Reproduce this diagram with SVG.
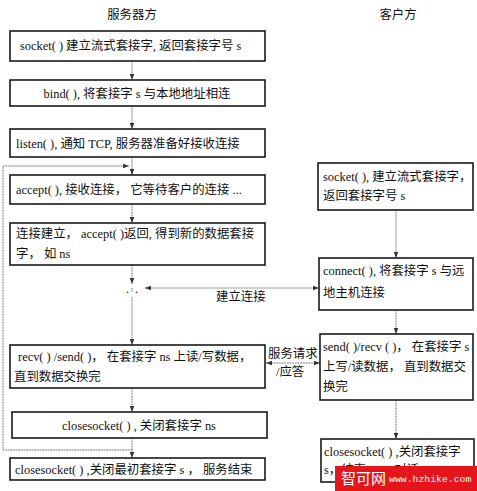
<svg xmlns="http://www.w3.org/2000/svg" width="477" height="491" viewBox="0 0 477 491">
<style>
  .box{fill:#fff;stroke:#1a1a1a;stroke-width:1.6}
  .t{font-family:"Liberation Serif","Noto Sans CJK SC",serif;font-size:12.4px;fill:#111}
  .c{text-anchor:middle}
  .ln{fill:none;stroke:#666;stroke-width:1;stroke-dasharray:1 0.6}
  .wm{font-family:"Noto Sans CJK SC",sans-serif;font-size:15px;fill:#fff}
  .wm2{font-family:"Liberation Mono",monospace;font-size:9.8px;fill:#fff}
</style>
<defs>
  <marker id="ah" viewBox="0 0 8 8" refX="8" refY="4" markerWidth="6" markerHeight="6" orient="auto-start-reverse" markerUnits="userSpaceOnUse">
    <path d="M0,1 L8,4 L0,7 Z" fill="#333"/>
  </marker>
</defs>
<rect width="477" height="491" fill="#fff"/>
<text class="t c" x="132" y="19">服务器方</text>
<text class="t c" x="398" y="19">客户方</text>

<g id="connectors">
  <line class="ln" x1="132" y1="61" x2="132" y2="80" marker-end="url(#ah)"/>
  <line class="ln" x1="132" y1="106" x2="132" y2="129" marker-end="url(#ah)"/>
  <line class="ln" x1="132" y1="157" x2="132" y2="175" marker-end="url(#ah)"/>
  <line class="ln" x1="132" y1="204" x2="132" y2="223" marker-end="url(#ah)"/>
  <line class="ln" x1="132" y1="265" x2="132" y2="284" marker-end="url(#ah)"/>
  <text class="t" x="126" y="293" font-size="9">.</text>
  <text class="t" x="135" y="293" font-size="9">.</text>
  <line class="ln" x1="132" y1="288" x2="132" y2="292"/>
  <line class="ln" x1="132" y1="297" x2="132" y2="345" marker-end="url(#ah)"/>
  <line class="ln" x1="132" y1="388" x2="132" y2="412" marker-end="url(#ah)"/>
  <line class="ln" x1="132" y1="438" x2="132" y2="458" marker-end="url(#ah)"/>
  <polyline class="ln" points="132,450 3,450 3,166 129,166" marker-end="url(#ah)"/>
  <line class="ln" x1="145" y1="288" x2="319" y2="288" marker-start="url(#ah)" marker-end="url(#ah)"/>
  <text class="t" x="216" y="301">建立连接</text>
  <line class="ln" x1="396" y1="210" x2="396" y2="258" marker-end="url(#ah)"/>
  <line class="ln" x1="396" y1="310" x2="396" y2="334" marker-end="url(#ah)"/>
  <line class="ln" x1="396" y1="400" x2="396" y2="439" marker-end="url(#ah)"/>
  <line class="ln" x1="266" y1="363" x2="320" y2="363" marker-start="url(#ah)" marker-end="url(#ah)"/>
  <text class="t" x="268" y="358">服务请求</text>
  <text class="t" x="276" y="376">/应答</text>
</g>

<g id="s_socket"><rect class="box" x="10" y="31" width="255" height="30"/>
  <text class="t" x="20" y="50">socket( ) 建立流式套接字, 返回套接字号 s</text></g>
<g id="s_bind"><rect class="box" x="10" y="80" width="255" height="26"/>
  <text class="t c" x="137" y="98">bind( ), 将套接字 s 与本地地址相连</text></g>
<g id="s_listen"><rect class="box" x="10" y="129" width="255" height="28"/>
  <text class="t" x="16" y="148">listen( ), 通知 TCP, 服务器准备好接收连接</text></g>
<g id="s_accept"><rect class="box" x="10" y="175" width="255" height="29"/>
  <text class="t" x="16" y="194">accept( ), 接收连接， 它等待客户的连接 ...</text></g>
<g id="s_established"><rect class="box" x="10" y="223" width="255" height="42"/>
  <text class="t" x="16" y="238">连接建立， accept( )返回, 得到新的数据套接</text>
  <text class="t" x="16" y="258">字， 如 ns</text></g>
<g id="s_recv"><rect class="box" x="10" y="345" width="255" height="43"/>
  <text class="t" x="18" y="361">recv( ) /send( )， 在套接字 ns 上读/写数据，</text>
  <text class="t" x="14" y="381">直到数据交换完</text></g>
<g id="s_close_ns"><rect class="box" x="12" y="412" width="255" height="26"/>
  <text class="t c" x="139" y="430">closesocket( ) , 关闭套接字 ns</text></g>
<g id="s_close_s"><rect class="box" x="10" y="458" width="255" height="22"/>
  <text class="t" x="15" y="474">closesocket( ) ,关闭最初套接字 s ， 服务结束</text></g>

<g id="c_socket"><rect class="box" x="318" y="163" width="155" height="47"/>
  <text class="t" x="323" y="181">socket( ), 建立流式套接字，</text>
  <text class="t" x="323" y="200">返回套接字号 s</text></g>
<g id="c_connect"><rect class="box" x="319" y="258" width="154" height="52"/>
  <text class="t" x="323" y="275">connect( ), 将套接字 s 与远</text>
  <text class="t" x="323" y="297">地主机连接</text></g>
<g id="c_send"><rect class="box" x="320" y="334" width="153" height="66"/>
  <text class="t" x="323" y="351">send( )/recv ( )， 在套接字 s</text>
  <text class="t" x="323" y="371">上写/读数据， 直到数据交</text>
  <text class="t" x="323" y="391">换完</text></g>
<g id="c_close"><rect class="box" x="321" y="439" width="153" height="43"/>
  <text class="t" x="324" y="456">closesocket( ) ,关闭套接字</text>
  <text class="t" x="324" y="474">s，结束 TCP 对话</text></g>

<g id="watermark">
  <rect x="335" y="466" width="142" height="25" fill="#e4161b"/>
  <text class="wm" x="341" y="484">智可网</text>
  <text class="wm2" x="389" y="482">www.hzhike.com</text>
</g>
</svg>
